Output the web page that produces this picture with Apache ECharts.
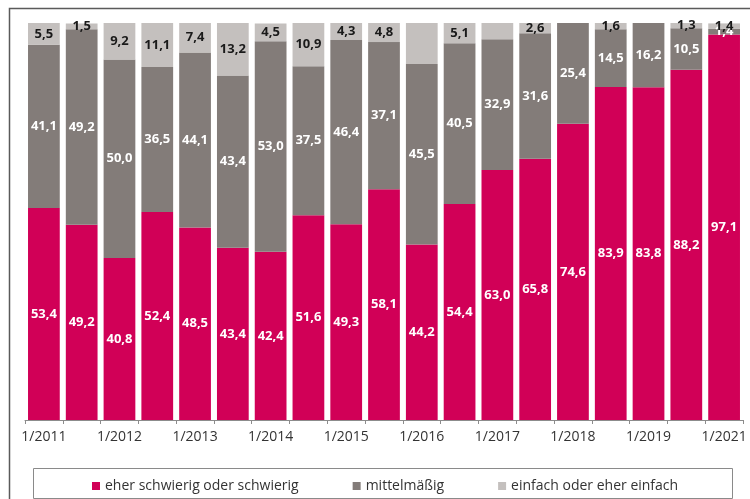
<!DOCTYPE html>
<html>
<head>
<meta charset="utf-8">
<script src="https://cdn.jsdelivr.net/npm/echarts@6/dist/echarts.min.js"></script>
<style>
  html, body { margin: 0; padding: 0; background: #fff; }
  #chart1 { width: 750px; height: 499px; }
</style>
</head>
<body>
<div id="chart1"></div>
<script>
// Half-yearly survey waves (only every other label is printed)
var categories = ['1/2011', '7/2011', '1/2012', '7/2012', '1/2013', '7/2013', '1/2014', '7/2014',
    '1/2015', '7/2015', '1/2016', '7/2016', '1/2017', '7/2017', '1/2018', '7/2018',
    '1/2019', '7/2019', '1/2021'];

var schwierig = [53.4, 49.2, 40.8, 52.4, 48.5, 43.4, 42.4, 51.6, 49.3, 58.1, 44.2, 54.4, 63.0, 65.8, 74.6, 83.9, 83.8, 88.2, 97.1];
var mittel = [41.1, 49.2, 50.0, 36.5, 44.1, 43.4, 53.0, 37.5, 46.4, 37.1, 45.5, 40.5, 32.9, 31.6, 25.4, 14.5, 16.2, 10.5, 1.4];
var einfach = [5.5, 1.5, 9.2, 11.1, 7.4, 13.2, 4.5, 10.9, 4.3, 4.8, 10.3, 5.1, 4.1, 2.6, 0, 1.6, 0, 1.3, 1.4];
// values that have no printed label in the picture
var unlabelled = [10, 12];

var seriesNames = ['eher schwierig oder schwierig', 'mittelmäßig', 'einfach oder eher einfach'];
var colors = ['#d10057', '#837c79', '#c4c0be'];

function fmt(p) {
    return p.value.toFixed(1).replace('.', ',');
}

var chart = echarts.init(document.getElementById('chart1'));

var labelFont = {
    fontFamily: 'Open Sans',
    fontWeight: 'bold',
    fontSize: 13
};

function buildSeries(name, values, color, labelColor, hideList) {
    return {
        name: name,
        type: 'bar',
        stack: 'all',
        barCategoryGap: '16%',
        itemStyle: { color: color },
        label: Object.assign({
            show: true,
            position: 'inside',
            color: labelColor,
            formatter: fmt
        }, labelFont),
        data: values.map(function (v, i) {
            if (v === 0) {
                return { value: 0, label: { show: false } };
            }
            if (hideList && hideList.indexOf(i) >= 0) {
                return { value: v, label: { show: false } };
            }
            return v;
        })
    };
}

var option = {
    animation: false,
    backgroundColor: '#fff',
    color: colors,
    grid: {
        left: 25,
        right: 7,
        top: 23,
        bottom: 79
    },
    legend: {
        top: 474,
        left: 87,
        itemWidth: 8,
        itemHeight: 8,
        itemGap: 54,
        icon: 'rect',
        textStyle: {
            fontFamily: 'Open Sans',
            fontSize: 14,
            color: '#333'
        },
        data: seriesNames
    },
    xAxis: {
        type: 'category',
        data: categories,
        axisLine: { lineStyle: { color: '#8c8c8c', width: 1 } },
        axisTick: {
            show: true,
            interval: 0,
            length: 4,
            lineStyle: { color: '#8c8c8c' }
        },
        axisLabel: {
            interval: 1,
            margin: 10,
            fontFamily: 'Open Sans',
            fontSize: 14,
            color: '#333'
        }
    },
    yAxis: {
        type: 'value',
        min: 0,
        max: 100,
        show: false,
        splitLine: { show: false }
    },
    graphic: [
        {
            type: 'rect',
            shape: { x: 9.5, y: 8.5, width: 800, height: 600 },
            style: { fill: 'none', stroke: '#5a5a5a', lineWidth: 1.5 },
            silent: true
        },
        {
            type: 'rect',
            shape: { x: 33.5, y: 468.5, width: 699, height: 30 },
            style: { fill: 'none', stroke: '#8a8a8a', lineWidth: 1 },
            silent: true
        }
    ],
    series: [
        buildSeries(seriesNames[0], schwierig, colors[0], '#fff'),
        buildSeries(seriesNames[1], mittel, colors[1], '#fff'),
        buildSeries(seriesNames[2], einfach, colors[2], '#1a1a1a', unlabelled)
    ]
};
chart.setOption(option);
</script>
</body>
</html>
